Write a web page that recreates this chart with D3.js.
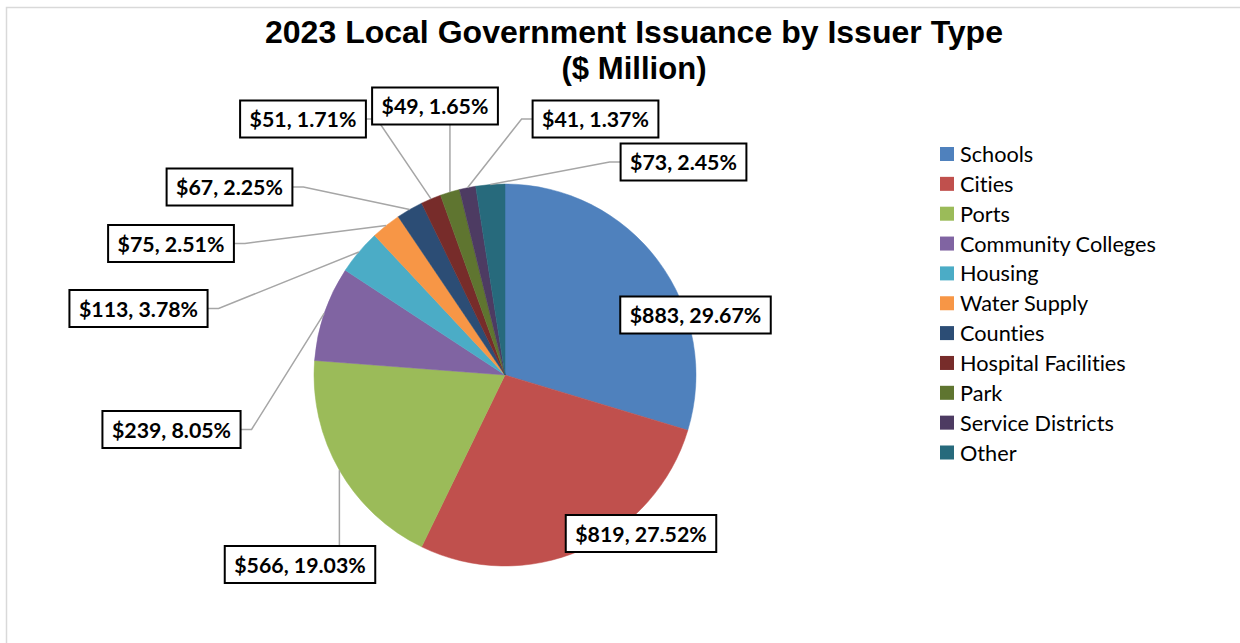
<!DOCTYPE html>
<html>
<head>
<meta charset="utf-8">
<script src="https://cdn.jsdelivr.net/npm/d3@7"></script>
<style>
  html, body { margin: 0; padding: 0; background: #fff; }
  svg { display: block; }
  text { font-variant-ligatures: none; }
</style>
</head>
<body>
<svg id="chart" width="1240" height="643"></svg>
<script>
// Issuance by issuer type, $ million, with the stated share of the total
const categories = ["Schools", "Cities", "Ports", "Community Colleges", "Housing", "Water Supply",
  "Counties", "Hospital Facilities", "Park", "Service Districts", "Other"];
const amounts = [883, 819, 566, 239, 113, 75, 67, 51, 49, 41, 73];
const shares = ["29.67%", "27.52%", "19.03%", "8.05%", "3.78%", "2.51%", "2.25%", "1.71%", "1.65%", "1.37%", "2.45%"];
const colors = ["#4F81BD", "#C0504D", "#9BBB59", "#8064A2", "#4BACC6", "#F79646",
  "#2C4D75", "#772C2A", "#5F7530", "#4D3B62", "#276A7C"];
const titleLines = ["2023 Local Government Issuance by Issuer Type", "($ Million)"];

// Layout
const cx = 505, cy = 375, R = 191;
const titleWidths = [738, 145];
// Data-label box centres, relative to the pie centre
const labelOffsets = [[190.5, -60], [136, 158.5], [-205, 189.5], [-333.5, 54.5], [-366.5, -66.5],
  [-334, -131.5], [-275.5, -188], [-202, -256], [-70, -269], [90.5, -256], [178.5, -213]];

const svg = d3.select("#chart");

// Chart-area frame
svg.append("rect")
  .attr("x", 6.5).attr("y", 7.5).attr("width", 1400).attr("height", 800)
  .attr("fill", "none").attr("stroke", "#d9d9d9").attr("stroke-width", 1.5);

// Title
svg.append("g").selectAll("text").data(titleLines).join("text")
  .attr("x", 634).attr("y", (d, i) => 43 + i * 35.5)
  .attr("text-anchor", "middle")
  .attr("font-family", "Liberation Sans, Arial, sans-serif")
  .attr("font-weight", "bold").attr("font-size", 30.5)
  .attr("textLength", (d, i) => titleWidths[i])
  .attr("lengthAdjust", "spacingAndGlyphs")
  .attr("fill", "#000")
  .text(d => d);

const data = categories.map((c, i) => ({ name: c, value: amounts[i], share: shares[i], color: colors[i], off: labelOffsets[i] }));

const pie = d3.pie().value(d => d.value).sort(null);
const arcs = pie(data);
const arc = d3.arc().innerRadius(0).outerRadius(R);

const g = svg.append("g").attr("transform", `translate(${cx},${cy})`);

g.selectAll("path.slice").data(arcs).join("path")
  .attr("class", "slice")
  .attr("d", arc)
  .attr("fill", d => d.data.color)
  .attr("stroke", d => d.data.color)
  .attr("stroke-width", 0.5);

// Data labels
const labelFont = "Lato, Carlito, Calibri, sans-serif";
const labels = g.append("g");
const boxH = 37, pad = 9.5, tail = 11;

arcs.forEach((a, i) => {
  const d = a.data;
  const [lx, ly] = d.off;
  const lg = labels.append("g");
  const txt = lg.append("text")
    .attr("x", lx).attr("y", ly)
    .attr("text-anchor", "middle").attr("dominant-baseline", "central")
    .attr("font-family", labelFont).attr("font-weight", "bold").attr("font-size", 21.3)
    .attr("fill", "#000")
    .text(`$${d.value}, ${d.share}`);
  const tw = txt.node().getComputedTextLength();
  const bw = tw + pad * 2;
  const x0 = lx - bw / 2, x1 = lx + bw / 2, y0 = ly - boxH / 2, y1 = ly + boxH / 2;

  // Leader line from the slice edge at its mid angle to the box
  const mid = (a.startAngle + a.endAngle) / 2;
  const px = Math.sin(mid) * R, py = -Math.cos(mid) * R;
  if (i > 1) {
    let pts;
    if (px >= x0 && px <= x1) {
      const ey = py < y0 ? y0 : y1;
      pts = [[px, py], [px, ey]];
    } else if (px < x0) {
      pts = [[px, py], [x0 - tail, ly], [x0, ly]];
    } else {
      pts = [[px, py], [x1 + tail, ly], [x1, ly]];
    }
    lg.insert("path", "text")
      .attr("d", d3.line()(pts))
      .attr("fill", "none").attr("stroke", "#a6a6a6").attr("stroke-width", 1.5);
  }
  lg.insert("rect", "text")
    .attr("x", x0).attr("y", y0).attr("width", bw).attr("height", boxH)
    .attr("fill", "#fff").attr("stroke", "#000").attr("stroke-width", 2);
});

// Legend
const legend = svg.append("g").attr("transform", "translate(940,154)");
const rows = legend.selectAll("g").data(data).join("g")
  .attr("transform", (d, i) => `translate(0,${i * 29.85})`);
rows.append("rect")
  .attr("x", 0).attr("y", -7).attr("width", 14).attr("height", 14)
  .attr("fill", d => d.color);
rows.append("text")
  .attr("x", 20).attr("y", 0).attr("dominant-baseline", "central")
  .attr("font-family", labelFont).attr("font-size", 21.7).attr("fill", "#000")
  .text(d => d.name);
</script>
</body>
</html>
